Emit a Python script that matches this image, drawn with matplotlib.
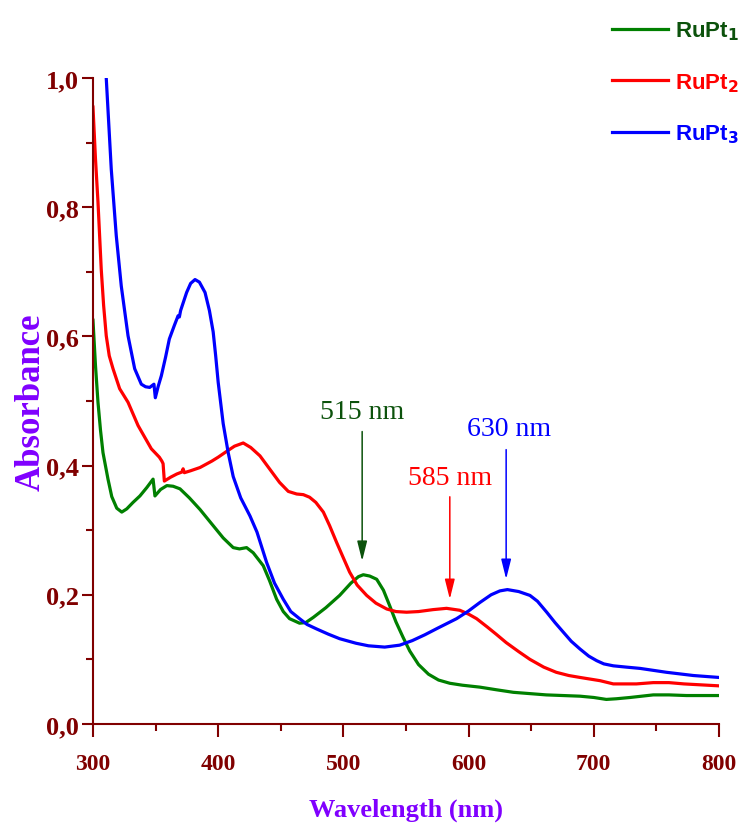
import numpy as np
import matplotlib.pyplot as plt

# UV-Vis absorption spectra of the three RuPt complexes
wl_1 = [300, 302, 304, 306, 308, 312, 315, 319, 323, 327, 332, 337.5, 343, 348, 349.5,
        354, 359, 364, 369.5, 377, 385.5, 396, 404, 412, 417, 422.7, 428, 436, 441,
        446.7, 452, 457, 465, 470, 476, 486, 497, 506, 512, 515.9, 521, 526.6, 532,
        537, 542, 547.7, 553, 560, 568, 576, 585, 595, 609, 622, 635.7, 662, 689,
        700, 710, 718, 729, 747.5, 760, 774, 800]
abs_1 = [0.625, 0.555, 0.498, 0.455, 0.420, 0.379, 0.352, 0.334, 0.328, 0.333, 0.343,
         0.353, 0.366, 0.379, 0.353, 0.363, 0.369, 0.368, 0.364, 0.350, 0.332, 0.307,
         0.288, 0.273, 0.271, 0.273, 0.265, 0.245, 0.222, 0.193, 0.174, 0.163, 0.156,
         0.157, 0.165, 0.180, 0.199, 0.218, 0.228, 0.231, 0.229, 0.224, 0.207, 0.183,
         0.158, 0.134, 0.113, 0.092, 0.077, 0.068, 0.063, 0.060, 0.057, 0.053, 0.049,
         0.045, 0.043, 0.041, 0.038, 0.039, 0.041, 0.045, 0.045, 0.044, 0.044]

wl_2 = [300, 302, 304, 306.6, 308.5, 310.6, 313, 316, 321.3, 328, 336, 341, 346.6, 353,
        355, 356, 357, 362, 367, 371, 372, 373, 378, 385.5, 395, 400, 406.8,
        413, 420, 426, 433.4, 441, 449, 456, 462.7, 468, 473, 478, 484, 489, 494.6,
        500, 505, 511, 518.6, 526, 534.6, 542, 550.5, 560, 571.6, 582.4, 593, 600,
        606.4, 615, 622, 630, 640, 649, 660, 670, 680, 689, 705, 715.6, 734, 747.5,
        760, 772, 800]
abs_2 = [0.955, 0.875, 0.808, 0.704, 0.648, 0.601, 0.570, 0.550, 0.519, 0.498, 0.462,
         0.445, 0.426, 0.413, 0.407, 0.403, 0.376, 0.382, 0.387, 0.390, 0.395, 0.389,
         0.392, 0.397, 0.407, 0.413, 0.422, 0.430, 0.435, 0.428, 0.415, 0.395, 0.374,
         0.360, 0.356, 0.355, 0.351, 0.343, 0.328, 0.307, 0.281, 0.257, 0.235, 0.215,
         0.199, 0.187, 0.178, 0.174, 0.173, 0.174, 0.177, 0.179, 0.176, 0.170, 0.163,
         0.150, 0.139, 0.126, 0.112, 0.100, 0.088, 0.080, 0.075, 0.072, 0.067, 0.062,
         0.062, 0.064, 0.064, 0.062, 0.059]

wl_3 = [310.6, 314.6, 318.6, 322.6, 328, 333.3, 338.6, 342, 345.3, 348.7, 349.8,
        352, 354.6, 358, 361, 365, 368, 369, 370, 374.8, 378, 381.5, 385, 389.5, 393,
        396, 398, 400, 404, 408, 412, 418, 425.4, 431, 438.7, 445, 452, 458, 465, 471,
        478.7, 488, 497, 510, 520, 533, 545, 555, 565, 575, 590.4, 600, 609, 618,
        625, 631, 640, 649, 655, 662.4, 669, 675.7, 682, 689, 696, 702.3, 708, 715.6,
        726, 737, 758, 779.5, 800]
abs_3 = [1.0, 0.859, 0.756, 0.678, 0.601, 0.550, 0.526, 0.522, 0.521, 0.526, 0.505,
         0.522, 0.539, 0.568, 0.596, 0.617, 0.632, 0.630, 0.640, 0.668, 0.682, 0.688,
         0.684, 0.668, 0.640, 0.607, 0.570, 0.529, 0.465, 0.420, 0.383, 0.350, 0.322,
         0.297, 0.250, 0.218, 0.193, 0.174, 0.163, 0.154, 0.147, 0.139, 0.132, 0.125,
         0.121, 0.119, 0.122, 0.129, 0.138, 0.148, 0.163, 0.175, 0.188, 0.200, 0.206,
         0.208, 0.205, 0.199, 0.190, 0.173, 0.157, 0.142, 0.128, 0.116, 0.105, 0.098,
         0.093, 0.090, 0.088, 0.086, 0.080, 0.075, 0.072]

names = [r'RuPt$_\mathbf{1}$', r'RuPt$_\mathbf{2}$', r'RuPt$_\mathbf{3}$']
line_colors = ['#008000', '#ff0000', '#0000ff']
text_colors = ['#0c520c', '#ff0000', '#0000ff']

# band maxima marked with arrows
peak_nm = [515, 585, 630]
peak_labels = ['515 nm', '585 nm', '630 nm']
label_x = [515, 585, 632]
label_y = [0.483, 0.382, 0.457]
arrow_top = [0.457, 0.356, 0.429]
arrow_tip = [0.248, 0.189, 0.220]

axis_col = '#800000'
label_col = '#8000ff'
serif = 'Liberation Serif'

fig = plt.figure(figsize=(7.42, 8.29), dpi=100)
ax = fig.add_axes([0.1253, 0.1255, 0.8437, 0.7792])

for wl, a, name, c in zip([wl_1, wl_2, wl_3], [abs_1, abs_2, abs_3], names, line_colors):
    ax.plot(wl, a, color=c, lw=2.3, label=name, solid_joinstyle='round')

for x, lab, ly, top, tip, lx, c in zip(peak_nm, peak_labels, label_y, arrow_top,
                                        arrow_tip, label_x, text_colors):
    ax.annotate('', xy=(x, tip), xytext=(x, top),
                arrowprops=dict(arrowstyle='-|>,head_length=0.6,head_width=0.15',
                                color=c, lw=1.1, mutation_scale=20))
    ax.text(lx, ly, lab, color=c, fontsize=20, family=serif, ha='center', va='center')

ax.set_xlim(300, 800)
ax.set_ylim(0, 1.0)
ax.set_xticks(np.arange(300, 801, 100))
ax.set_xticks(np.arange(350, 800, 100), minor=True)
ax.set_yticks(np.arange(0, 1.01, 0.2))
ax.set_yticks(np.arange(0.1, 1.0, 0.2), minor=True)
ax.set_yticklabels([f'{v:.1f}'.replace('.', ',') for v in np.arange(0, 1.01, 0.2)])

for s in ['top', 'right']:
    ax.spines[s].set_visible(False)
for s in ['left', 'bottom']:
    ax.spines[s].set_color(axis_col)
    ax.spines[s].set_linewidth(1.5)

ax.tick_params(which='both', direction='out', width=1.5, color=axis_col,
               labelcolor=axis_col)
ax.tick_params(axis='y', which='major', length=8, pad=2, labelsize=19)
ax.tick_params(axis='y', which='minor', length=5)
ax.tick_params(axis='x', which='major', length=9, pad=12, labelsize=17)
ax.tick_params(axis='x', which='minor', length=5)
for t in ax.get_xticklabels() + ax.get_yticklabels():
    t.set_family(serif)
    t.set_fontweight('bold')

ax.set_xlabel('Wavelength (nm)', color=label_col, fontsize=19, family=serif,
              fontweight='bold', labelpad=17)
ax.set_ylabel('Absorbance', color=label_col, fontsize=25, family=serif,
              fontweight='bold', labelpad=-1)

leg = ax.legend(loc='upper left', bbox_to_anchor=(0.825, 0.975),
                bbox_transform=fig.transFigure, frameon=False, handlelength=2.5,
                handletextpad=0.32, labelspacing=1.3, borderpad=0, borderaxespad=0,
                prop={'family': 'Liberation Sans', 'weight': 'bold', 'size': 16},
                labelcolor=text_colors)
for h in leg.get_lines():
    h.set_linewidth(2.3)

fig.savefig('out.png', dpi=100)
